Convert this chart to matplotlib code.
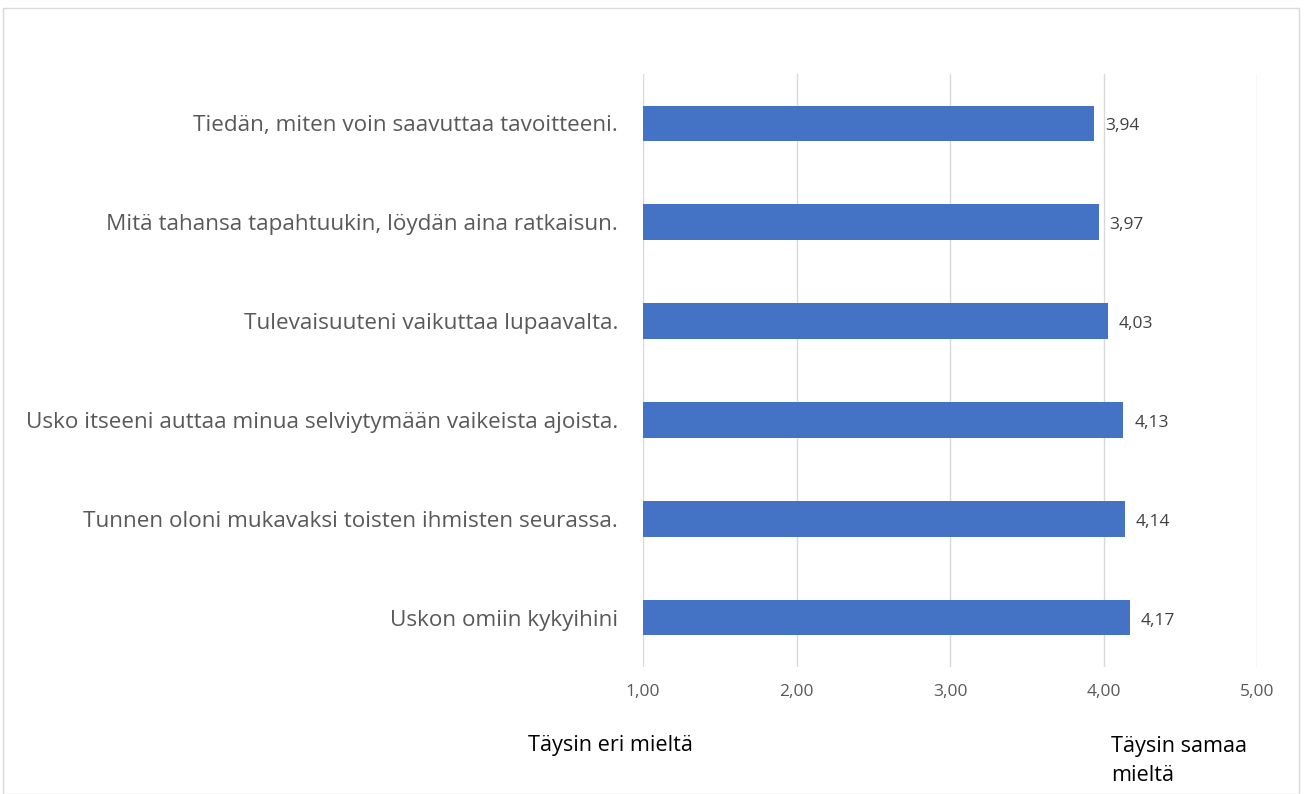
import matplotlib
matplotlib.use("Agg")
import matplotlib.pyplot as plt
from matplotlib.patches import Rectangle

# väittämät alhaalta ylös
vaittamat = [
    "Uskon omiin kykyihini",
    "Tunnen oloni mukavaksi toisten ihmisten seurassa.",
    "Usko itseeni auttaa minua selviytymään vaikeista ajoista.",
    "Tulevaisuuteni vaikuttaa lupaavalta.",
    "Mitä tahansa tapahtuukin, löydän aina ratkaisun.",
    "Tiedän, miten voin saavuttaa tavoitteeni.",
]
keskiarvot = [4.17, 4.14, 4.13, 4.03, 3.97, 3.94]
asteikko = [1, 2, 3, 4, 5]

plt.rcParams["font.family"] = ["Open Sans", "DejaVu Sans"]

fig = plt.figure(figsize=(13.04, 7.94), dpi=100)
ax = fig.add_axes([0.4931, 0.160, 0.4709, 0.7468])

pos = list(range(len(vaittamat)))
ax.barh(pos, [k - 1 for k in keskiarvot], left=1, height=0.36, color="#4472C4", zorder=3)

for p, k in zip(pos, keskiarvot):
    ax.text(k + 0.07, p - 0.03, f"{k:.2f}".replace(".", ","), va="center", ha="left",
            fontsize=12.5, color="#404040")

ax.set_xlim(1, 5)
ax.set_ylim(-0.5, len(vaittamat) - 0.5)
ax.set_xticks(asteikko)
ax.set_xticklabels([f"{v:.2f}".replace(".", ",") for v in asteikko], fontsize=12.5, color="#595959")
ax.set_yticks(pos)
ax.set_yticklabels(vaittamat, fontsize=16.2, color="#595959")
ax.tick_params(axis="both", length=0)
ax.tick_params(axis="x", pad=12)
ax.tick_params(axis="y", pad=18)
ax.grid(axis="x", color="#D9D9D9", linewidth=1, zorder=0)
for s in ax.spines.values():
    s.set_visible(False)

fig.text(528 / 1304, 1 - 745 / 794, "Täysin eri mieltä", fontsize=15.6, color="black", va="center")
fig.text(1111 / 1304, 1 - 761 / 794, "Täysin samaa\nmieltä", fontsize=15.6, color="black",
         va="center", linespacing=1.45)

fig.patches.append(Rectangle((3 / 1304, 0), 1296 / 1304, 1 - 8 / 794, transform=fig.transFigure,
                             fill=False, edgecolor="#D9D9D9", linewidth=1))

fig.savefig("out.png", dpi=100)
